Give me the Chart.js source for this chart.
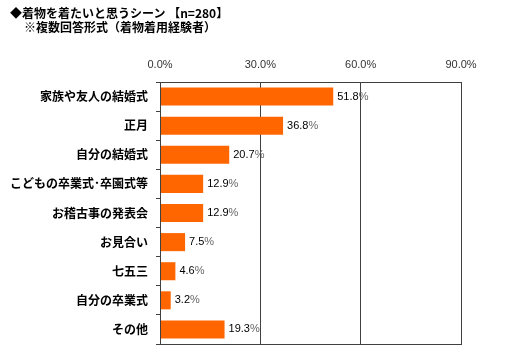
<!DOCTYPE html>
<html><head><meta charset="utf-8">
<script src="https://cdn.jsdelivr.net/npm/chart.js@4"></script>
<style>
html,body{margin:0;padding:0;background:#fff;}
#wrap{position:relative;width:505px;height:363px;}
canvas{position:absolute;left:0;top:0;}
.t{position:absolute;font-family:"Noto Sans CJK JP";font-size:12px;font-weight:bold;color:#000;white-space:nowrap;line-height:14px;}
</style></head>
<body>
<div id="wrap">
<canvas id="c" width="505" height="363"></canvas>
<div class="t" style="left:10px;top:6px;">◆着物を着たいと思うシーン 【n=280】</div>
<div class="t" style="left:24px;top:20px;">※複数回答形式（着物着用経験者）</div>
</div>
<script>
const categories = ["家族や友人の結婚式","正月","自分の結婚式","こどもの卒業式･卒園式等","お稽古事の発表会","お見合い","七五三","自分の卒業式","その他"];
const values = [51.8, 36.8, 20.7, 12.9, 12.9, 7.5, 4.6, 3.2, 19.3];
const tickValues = [0, 30, 60, 90];

const labelPlugin = {
  id: 'labels',
  afterDatasetsDraw(chart) {
    const ctx = chart.ctx;
    const meta = chart.getDatasetMeta(0);
    ctx.save();
    ctx.font = '11px "Liberation Sans"';
    ctx.textBaseline = 'middle';
    ctx.textAlign = 'left';
    meta.data.forEach((bar, i) => {
      const num = values[i].toFixed(1);
      const x = bar.x + 4, y = bar.y;
      ctx.fillStyle = '#000';
      ctx.fillText(num, x, y);
      const w = ctx.measureText(num).width;
      ctx.fillStyle = '#666';
      ctx.fillText('%', x + w, y);
    });
    ctx.restore();
  }
};
const borderPlugin = {
  id: 'border',
  afterDraw(chart) {
    const a = chart.chartArea, ctx = chart.ctx;
    ctx.save();
    ctx.strokeStyle = '#404040';
    ctx.lineWidth = 1;
    ctx.strokeRect(Math.round(a.left)+0.5, Math.round(a.top)+0.5, Math.round(a.right-a.left), Math.round(a.bottom-a.top));
    ctx.restore();
  }
};

new Chart(document.getElementById('c'), {
  type: 'bar',
  data: {
    labels: categories,
    datasets: [{ data: values, backgroundColor: '#FF6600', borderWidth: 0, barPercentage: 0.62, categoryPercentage: 1 }]
  },
  options: {
    indexAxis: 'y',
    responsive: false,
    animation: false,
    events: [],
    layout: { padding: { left: 0, right: 44, top: 0, bottom: 19 } },
    plugins: { legend: { display: false }, tooltip: { enabled: false }, title: { display: false } },
    scales: {
      x: {
        position: 'top',
        min: 0, max: 90,
        afterBuildTicks(s) { s.ticks = tickValues.map(v => ({ value: v })); },
        afterFit(s) { s.height = 82; },
        ticks: { color: '#333', font: { family: '"Liberation Sans"', size: 11 }, padding: 10,
          callback: v => v.toFixed(1) + '%' },
        grid: { color: '#404040', drawTicks: false, lineWidth: 1 },
        border: { display: true, color: '#404040' }
      },
      y: {
        afterFit(s) { s.width = 160; },
        ticks: { color: '#000', font: { family: '"Noto Sans CJK JP"', size: 12, weight: 'bold' }, padding: 8, autoSkip: false },
        grid: { drawOnChartArea: false, drawTicks: true, tickLength: 4, color: '#404040', offset: true },
        border: { display: true, color: '#404040' }
      }
    }
  },
  plugins: [labelPlugin, borderPlugin]
});
</script>
</body></html>
